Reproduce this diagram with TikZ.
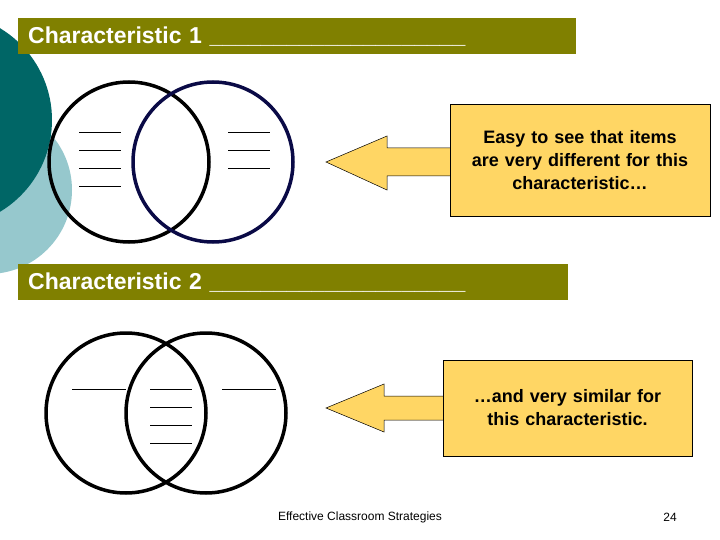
\documentclass[tikz,border=0pt]{standalone}
\usepackage{fontspec}
\setmainfont{Liberation Sans}
\definecolor{olivebar}{RGB}{128,128,0}
\definecolor{darkteal}{RGB}{0,102,102}
\definecolor{lightteal}{RGB}{150,200,205}
\definecolor{notebox}{RGB}{255,214,100}
\definecolor{navyring}{RGB}{10,10,70}
\tikzset{
  titlebar/.style={fill=olivebar, text=white, font=\bfseries\fontsize{23}{26}\selectfont, anchor=north west, inner sep=0pt, align=left},
  ring/.style={line width=3.5pt},
  blank/.style={line width=0.5pt},
  notetext/.style={fill=notebox, draw=black, line width=0.5pt, font=\bfseries\fontsize{18}{23}\selectfont, align=center, inner sep=0pt},
  callout/.style={fill=notebox, draw=black, line width=0.5pt},
}
\begin{document}
\begin{tikzpicture}[x=1pt,y=-1pt]
      \useasboundingbox (0,0) rectangle (720,540);
      % background circles
      \fill [lightteal] (-12,190) circle (84);
      \fill [darkteal] (-55,120) circle (107);

      % first characteristic
      \node [titlebar, minimum width=558pt, minimum height=36pt, text width=550pt] (bar1) at (18,18) {\hspace{6pt}Characteristic 1 \_\_\_\_\_\_\_\_\_\_\_\_\_\_\_\_\_\_\_\_};
      \draw [ring] (129,162) circle (80);
      \draw [ring, color=navyring] (213,162) circle (80);
      \foreach \y in {132,150,168,186}
        \draw [blank] (79,\y) -- (121,\y);
      \foreach \y in {132,150,168}
        \draw [blank] (228,\y) -- (270,\y);
      \node [notetext, minimum width=260pt, minimum height=112pt, text width=250pt] (note1) at (580,160) {Easy to see that items\\are very different for this\\characteristic\dots};
      \coordinate (tip1) at (326,162);
      \draw [callout] (note1.west |- 0,148) -- (387,148) -- (387,136) -- (tip1) -- (387,190) -- (387,176) -- (note1.west |- 0,176);

      % second characteristic
      \node [titlebar, minimum width=550pt, minimum height=36pt, text width=542pt] (bar2) at (18,264) {\hspace{6pt}Characteristic 2 \_\_\_\_\_\_\_\_\_\_\_\_\_\_\_\_\_\_\_\_};
      \draw [ring] (126,413) circle (80);
      \draw [ring] (206,413) circle (80);
      \draw [blank] (72,389) -- (126,389);
      \foreach \y in {389,407,425,443}
        \draw [blank] (150,\y) -- (192,\y);
      \draw [blank] (222,389) -- (276,389);
      \node [notetext, minimum width=249pt, minimum height=96pt, text width=240pt] (note2) at (567.5,408) {\dots and very similar for\\this characteristic.\\[14pt]};
      \coordinate (tip2) at (326,408);
      \draw [callout] (note2.west |- 0,396) -- (384,396) -- (384,384) -- (tip2) -- (384,432) -- (384,420) -- (note2.west |- 0,420);

      % footer
      \node [font=\fontsize{12}{14}\selectfont] (footer) at (360,517) {Effective Classroom Strategies};
      \node [font=\fontsize{12}{14}\selectfont] (page) at (670,517) {24};
\end{tikzpicture}
\end{document}
